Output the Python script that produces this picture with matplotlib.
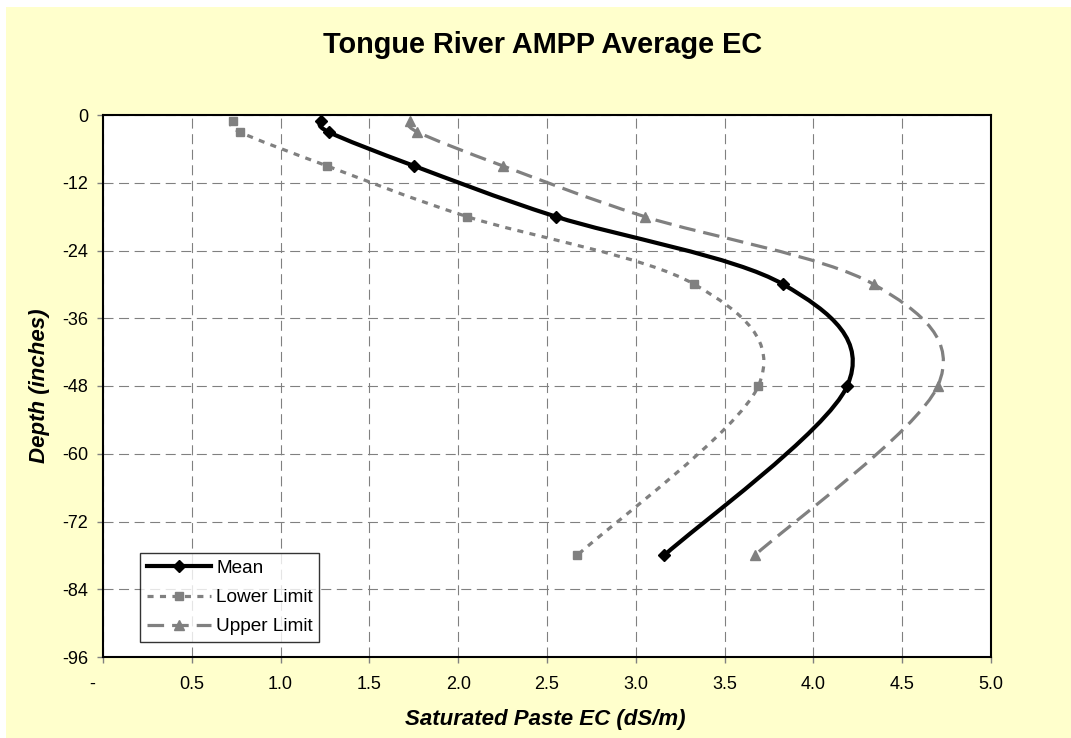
import matplotlib
matplotlib.use("Agg")
import matplotlib.pyplot as plt
import numpy as np
from matplotlib.path import Path
from matplotlib.patches import PathPatch, Rectangle
from matplotlib.lines import Line2D

# values
depth = [-1, -3, -9, -18, -30, -48, -78]
mean_ec = [1.23, 1.27, 1.75, 2.55, 3.83, 4.19, 3.16]
lower_ec = [0.73, 0.77, 1.26, 2.05, 3.33, 3.69, 2.67]
upper_ec = [1.73, 1.77, 2.25, 3.05, 4.34, 4.70, 3.67]

x_ticks = [0, 0.5, 1.0, 1.5, 2.0, 2.5, 3.0, 3.5, 4.0, 4.5, 5.0]
x_labels = ["-    ", "0.5", "1.0", "1.5", "2.0", "2.5", "3.0", "3.5", "4.0", "4.5", "5.0"]
y_ticks = [0, -12, -24, -36, -48, -60, -72, -84, -96]

plt.rcParams["font.family"] = ["Liberation Sans", "DejaVu Sans"]
plt.rcParams["axes.unicode_minus"] = False


def smooth_path(xs, ys):
    # Excel-like smoothed line: Catmull-Rom control points, drawn as cubic Bezier
    pts = np.column_stack([xs, ys]).astype(float)
    n = len(pts)
    verts = [pts[0]]
    codes = [Path.MOVETO]
    for i in range(n - 1):
        p0 = pts[max(i - 1, 0)]
        p1 = pts[i]
        p2 = pts[i + 1]
        p3 = pts[min(i + 2, n - 1)]
        verts += [p1 + (p2 - p0) / 6, p2 - (p3 - p1) / 6, p2]
        codes += [Path.CURVE4] * 3
    return Path(verts, codes)


fig = plt.figure(figsize=(10.71, 7.38), dpi=100, facecolor="white")
fig.patches.append(Rectangle((6 / 1071, 0), 1 - 6 / 1071, 1 - 7 / 738,
                             transform=fig.transFigure, facecolor="#FFFFCC",
                             edgecolor="none", zorder=-10))

ax = fig.add_axes([103 / 1071, 81 / 738, 888 / 1071, 542 / 738])
ax.set_facecolor("white")

series = [
    (lower_ec, "#808080", 2.3, (0, (1.9, 2.0)), "s", 6, "Lower Limit"),
    (upper_ec, "#808080", 2.3, (0, (5.2, 2.5)), "^", 7, "Upper Limit"),
    (mean_ec, "black", 3.0, "-", "D", 6.5, "Mean"),
]
handles = {}
for xs, col, lw, ls, mk, ms, lab in series:
    ax.add_patch(PathPatch(smooth_path(xs, depth), fill=False, edgecolor=col,
                           linewidth=lw, linestyle=ls, capstyle="butt", zorder=3))
    ax.plot(xs, depth, linestyle="none", marker=mk, markersize=ms,
            color=col, zorder=4)
    handles[lab] = Line2D([], [], color=col, linewidth=lw, linestyle=ls,
                          marker=mk, markersize=ms)

ax.set_xlim(0, 5)
ax.set_ylim(-96, 0)
ax.set_xticks(x_ticks)
ax.set_xticklabels(x_labels)
ax.set_yticks(y_ticks)
ax.tick_params(axis="both", direction="out", length=4.5, width=1,
               color="#808080", labelsize=13)
ax.tick_params(axis="x", pad=9)
ax.tick_params(axis="y", pad=6)
ax.grid(True, color="#808080", linewidth=0.8, linestyle=(0, (9, 5)))
ax.set_axisbelow(True)
for sp in ax.spines.values():
    sp.set_linewidth(1.5)
    sp.set_color("black")

leg = ax.legend([handles["Mean"], handles["Lower Limit"], handles["Upper Limit"]],
                ["Mean", "Lower Limit", "Upper Limit"],
                loc="lower left", bbox_to_anchor=(0.0417, 0.0277),
                fontsize=13.7, frameon=True, fancybox=False, numpoints=1,
                handlelength=3.4, handletextpad=0.25, labelspacing=0.62,
                borderpad=0.35, borderaxespad=0)
leg.get_frame().set_edgecolor("black")
leg.get_frame().set_linewidth(1)

fig.text(543 / 1071, 1 - 45 / 738, "Tongue River AMPP Average EC",
         ha="center", va="center", fontsize=20.8, fontweight="bold")
fig.text(545 / 1071, 1 - 719 / 738, "Saturated Paste EC (dS/m)",
         ha="center", va="center", fontsize=16, fontweight="bold", style="italic")
fig.text(40 / 1071, 1 - 386 / 738, "Depth (inches)", rotation=90,
         ha="center", va="center", fontsize=16, fontweight="bold", style="italic")

fig.savefig("out.png", dpi=100, facecolor=fig.get_facecolor())
